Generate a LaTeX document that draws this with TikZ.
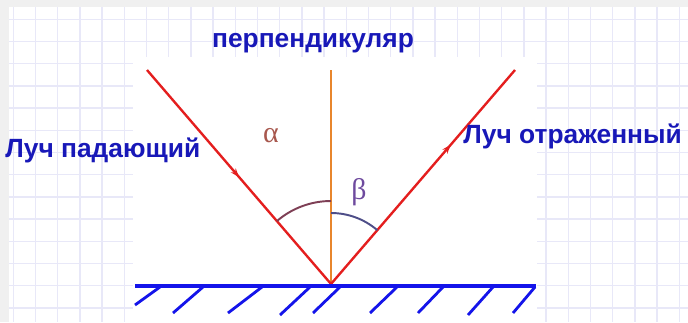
\documentclass[tikz,border=0pt]{standalone}
\usepackage{fontspec}
\setmainfont{Liberation Sans}
\newfontfamily\greekfont{Liberation Serif}
\usetikzlibrary{decorations.markings,arrows.meta}
\definecolor{raycol}{HTML}{E41E1E}
\definecolor{perpcol}{HTML}{E8862C}
\definecolor{mirrorcol}{HTML}{1414EA}
\definecolor{textcol}{HTML}{1818B8}
\definecolor{gridcol}{HTML}{E8E8F8}
\definecolor{alphacol}{HTML}{A8584E}
\definecolor{betacol}{HTML}{6E4A9E}
\definecolor{alphaarc}{HTML}{7E3F55}
\definecolor{betaarc}{HTML}{4E4E88}

\begin{document}
\begin{tikzpicture}[x=0.02cm,y=0.02cm,
  ray/.style={raycol,line width=1.35pt,postaction={decorate}},
  lbl/.style={textcol,font=\bfseries\fontsize{15}{17}\selectfont,inner sep=0pt},
  greek/.style={inner sep=0pt,font=\greekfont\fontsize{17}{17}\selectfont}]
\useasboundingbox (0,0) rectangle (688,322);
\fill[black!6] (0,0) rectangle (688,322);
\fill[white] (9,0) rectangle (688,315);
\foreach \i in {0,...,30}
  \draw[gridcol,line width=0.85pt] (13.3+22.2*\i,0) -- (13.3+22.2*\i,315);
\foreach \j in {0,...,13}
  \draw[gridcol,line width=0.85pt] (9,302.7-22.2*\j) -- (688,302.7-22.2*\j);
\fill[white] (133,0) rectangle (537,265);

\coordinate (o) at (331,38);
\coordinate (a) at (147,252);
\coordinate (p) at (331,252);
\coordinate (r) at (515,252);
\coordinate (ml) at (135,36);
\coordinate (mr) at (536,36);

\draw[perpcol,line width=0.9pt] (p) -- (o);
\draw[ray,decoration={markings,mark=at position 0.5 with {\arrow{Stealth[length=5pt,width=3.6pt]}}}] (a) -- (o);
\draw[ray,decoration={markings,mark=at position 0.65 with {\arrow{Stealth[length=5pt,width=3.6pt]}}}] (o) -- (r);

\draw[alphaarc,line width=1.1pt] (o) ++(90:83) arc[start angle=90,end angle=130.6,radius=83];
\draw[betaarc,line width=1.1pt] (o) ++(90:71) arc[start angle=90,end angle=49.4,radius=71];

\draw[mirrorcol,line width=2.4pt] (ml) -- (mr);
\foreach \t/\b/\d in {160/135/17,203/173/9,262/228/9,310/280/7,340/313/9,397/370/9,443/418/9,493/468/7,535/513/9}
  \draw[mirrorcol,line width=1.6pt] (\t,35) -- (\b,\d);

\node[greek,text=alphacol] (alpha) at (271,186) {α};
\node[greek,text=betacol] (beta) at (359,130) {β};

\node[lbl,anchor=base] (perp) at (313,275) {перпендикуляр};
\node[lbl,anchor=base west] (inc) at (5,165) {Луч падающий};
\node[lbl,anchor=base west] (refl) at (463,179) {Луч отраженный};
\end{tikzpicture}
\end{document}
